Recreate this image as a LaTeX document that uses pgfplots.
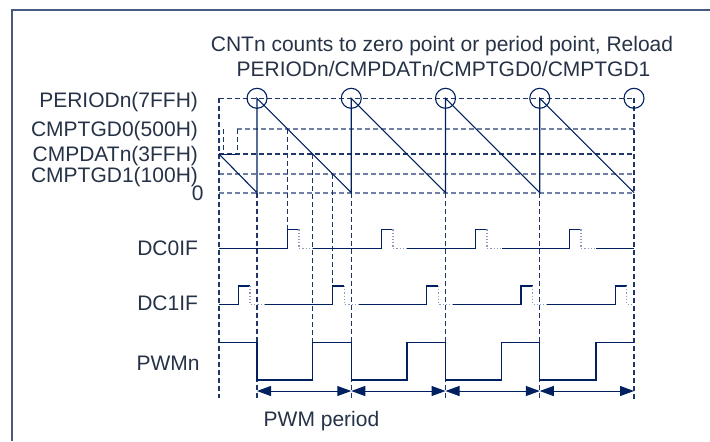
\documentclass[border=0pt]{standalone}
\usepackage{pgfplots}
\pgfplotsset{compat=1.18}
\usepackage{fontspec}
\setmainfont{Liberation Sans}
\usetikzlibrary{arrows.meta}

\definecolor{navy}{RGB}{0,32,96}
\definecolor{dashdark}{RGB}{31,52,105}
\definecolor{dashlight}{RGB}{112,128,165}
\definecolor{dotc}{RGB}{140,155,190}
\definecolor{textc}{RGB}{38,50,70}
\definecolor{framec}{RGB}{70,90,130}

\tikzset{
  sig/.style={navy, line width=0.65pt},
  dot/.style={dotc, line width=0.6pt, densely dotted},
  hdark/.style={dashdark, line width=0.6pt, dash pattern=on 2.5pt off 1.5pt},
  hlight/.style={dashlight, line width=0.9pt, dash pattern=on 2.5pt off 1.5pt},
  vdash/.style={dashdark, line width=0.55pt, dash pattern=on 2.5pt off 1.5pt},
  lab/.style={anchor=base east, text=textc},
  per/.style={navy, line width=0.5pt, {Triangle[length=7pt,width=5pt]}-{Triangle[length=7pt,width=5pt]}},
}

\begin{document}
\begin{tikzpicture}[font=\fontsize{10.5}{12.6}\selectfont]
\begin{axis}[
  name=ax,
  scale only axis, width=355pt, height=220.5pt,
  xmin=0, xmax=710, ymin=0, ymax=441, y dir=reverse,
  axis lines=none, clip=false,
  every axis plot/.append style={line join=miter},
]
% frame
\addplot[framec, line width=0.6pt] coordinates {(12,441) (12,10) (710,10)};

% reference levels
\addplot[hdark]  coordinates {(219,98.3) (634,98.3)};
\addplot[hlight] coordinates {(237.3,129) (634,129)};
\addplot[hdark]  coordinates {(219,154) (634,154)};
\addplot[hlight] coordinates {(219,174) (634,174)};
\addplot[hlight] coordinates {(219,192.7) (634,192.7)};

% CMPTGD0 reload step
\addplot[vdash] coordinates {(223.3,129) (223.3,154)};
\addplot[vdash] coordinates {(237.3,129) (237.3,154)};
\addplot[sig, line width=0.5pt] coordinates {(223.3,154) (237.3,154)};

% vertical guide lines
\addplot[vdash] coordinates {(219,98.3) (219,398)};
\addplot[vdash] coordinates {(257,192.7) (257,398)};
\addplot[vdash] coordinates {(287.6,129) (287.6,229.3)};
\addplot[vdash] coordinates {(312.8,154) (312.8,342.3)};
\addplot[vdash] coordinates {(332.5,174) (332.5,286)};
\addplot[vdash] coordinates {(351.25,192.7) (351.25,399)};
\addplot[vdash] coordinates {(445.5,192.7) (445.5,399)};
\addplot[vdash] coordinates {(539.75,192.7) (539.75,399)};
\addplot[vdash] coordinates {(634,98.3) (634,399)};

% counter sawtooth
\addplot[sig, line width=0.55pt] coordinates {
  (219,154) (257,192.7) (257,98.3) (351.25,192.7) (351.25,98.3)
  (445.5,192.7) (445.5,98.3) (539.75,192.7) (539.75,98.3) (634,192.7)};

% reload points
\addplot[only marks, mark=o, mark size=5pt, mark options={navy, line width=0.55pt}]
  coordinates {(257,98.3) (351.25,98.3) (445.5,98.3) (539.75,98.3) (634,98.3)};

% DC0IF
\addplot[sig] coordinates {(219,248.3) (287.5,248.3) (287.5,229.3) (298.9,229.3)};
\addplot[dot] coordinates {(298.9,229.3) (298.9,248.3) (313,248.3)};
\addplot[sig] coordinates {(313,248.3) (381.5,248.3) (381.5,229.3) (392.9,229.3)};
\addplot[dot] coordinates {(392.9,229.3) (392.9,248.3) (407,248.3)};
\addplot[sig] coordinates {(407,248.3) (475.6,248.3) (475.6,229.3) (487,229.3)};
\addplot[dot] coordinates {(487,229.3) (487,248.3) (502,248.3)};
\addplot[sig] coordinates {(502,248.3) (569.6,248.3) (569.6,229.3) (581,229.3)};
\addplot[dot] coordinates {(581,229.3) (581,248.3) (596,248.3)};
\addplot[sig] coordinates {(596,248.3) (634,248.3)};

% DC1IF
\addplot[sig] coordinates {(219,304.3) (238.3,304.3) (238.3,286) (250,286)};
\addplot[dot] coordinates {(250,286) (250,304.3) (265,304.3)};
\addplot[sig] coordinates {(265,304.3) (332.6,304.3) (332.6,286) (344.2,286)};
\addplot[dot] coordinates {(344.2,286) (344.2,304.3) (359,304.3)};
\addplot[sig] coordinates {(359,304.3) (426.8,304.3) (426.8,286) (438.4,286)};
\addplot[dot] coordinates {(438.4,286) (438.4,304.3) (453,304.3)};
\addplot[sig] coordinates {(453,304.3) (521,304.3) (521,286) (532.6,286)};
\addplot[dot] coordinates {(532.6,286) (532.6,304.3) (547,304.3)};
\addplot[sig] coordinates {(547,304.3) (615.2,304.3) (615.2,286) (626.8,286)};
\addplot[dot] coordinates {(626.8,286) (626.8,304.3) (634,304.3)};

% PWMn
\addplot[sig] coordinates {
  (219,342.3) (257,342.3) (257,380) (312.8,380) (312.8,342.3)
  (351.25,342.3) (351.25,380) (407,380) (407,342.3)
  (445.5,342.3) (445.5,380) (501.8,380) (501.8,342.3)
  (539.75,342.3) (539.75,380) (596,380) (596,342.3) (634,342.3)};

% PWM period arrows
\addplot[per] coordinates {(257,391) (351.25,391)};
\addplot[per] coordinates {(351.25,391) (445.5,391)};
\addplot[per] coordinates {(445.5,391) (539.75,391)};
\addplot[per] coordinates {(539.75,391) (634,391)};

% texts
\node[anchor=base, text=textc] at (axis cs:442,51.7) {CNTn counts to zero point or period point, Reload};
\node[anchor=base, text=textc] at (axis cs:443.5,76.7) {PERIODn/CMPDATn/CMPTGD0/CMPTGD1};
\node[lab] at (axis cs:205,107.5) {PERIODn(7FFH)};
\node[lab] at (axis cs:205,136) {CMPTGD0(500H)};
\node[lab, inner ysep=0pt] at (axis cs:205,161.8) {CMPDATn(3FFH)};
\node[lab, inner ysep=0pt] at (axis cs:205,182) {CMPTGD1(100H)};
\node[lab] at (axis cs:210.7,200) {0};
\node[lab] at (axis cs:205,255) {DC0IF};
\node[lab] at (axis cs:205,310) {DC1IF};
\node[lab] at (axis cs:206.7,370.7) {PWMn};
\node[anchor=base, text=textc] at (axis cs:321.5,426.7) {PWM period};
\end{axis}
\pgfresetboundingbox
\path (ax.south west) rectangle (ax.north east);
\end{tikzpicture}
\end{document}
